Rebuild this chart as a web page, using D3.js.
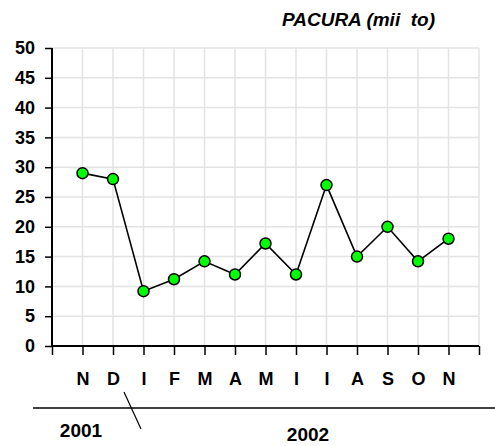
<!DOCTYPE html>
<html>
<head>
<meta charset="utf-8">
<script src="https://cdn.jsdelivr.net/npm/d3@7"></script>
<style>
  body { margin: 0; background: #fff; }
  svg { font-family: "Liberation Sans", Arial, sans-serif; }
</style>
</head>
<body>
<svg id="chart" width="495" height="446"></svg>
<script>
// monthly values, Nov 2001 .. Nov 2002
var months = ['N', 'D', 'I', 'F', 'M', 'A', 'M', 'I', 'I', 'A', 'S', 'O', 'N'];
var values = [29, 28, 9.2, 11.2, 14.2, 12, 17.2, 12, 27, 15, 20, 14.2, 18];
var yTicks = [0, 5, 10, 15, 20, 25, 30, 35, 40, 45, 50];
var years = ['2001', '2002'];
var title = 'PACURA (mii  to)';

var svg = d3.select('#chart');

var plotL = 52, plotR = 479, plotT = 48, plotB = 346; // plot box

// slot 0 is the empty first tick, months sit on slots 1..13, slot 14 closes the axis
var x = d3.scaleLinear().domain([0, months.length + 1]).range([plotL, plotR]);
var y = d3.scaleLinear().domain([0, 50]).range([plotB, plotT]);

var grid = svg.append('g');
grid.selectAll('line.h').data(yTicks.slice(1)).enter().append('line')
	.attr('x1', plotL).attr('x2', plotR)
	.attr('y1', function(d) { return y(d); })
	.attr('y2', function(d) { return y(d); })
	.attr('stroke', '#e3e3e3').attr('stroke-width', 1.5);
grid.selectAll('line.v').data(d3.range(1, months.length + 2)).enter().append('line')
	.attr('x1', function(d) { return x(d); })
	.attr('x2', function(d) { return x(d); })
	.attr('y1', plotT).attr('y2', plotB)
	.attr('stroke', '#e3e3e3').attr('stroke-width', 1.5);

// y axis
var yAxis = svg.append('g')
	.attr('transform', 'translate(' + plotL + ',0)')
	.call(d3.axisLeft(y).tickValues(yTicks).tickSize(7).tickPadding(10));
yAxis.select('.domain').attr('stroke-width', 2).attr('d', 'M0,' + plotT + 'V' + plotB);
yAxis.selectAll('.tick line').attr('stroke-width', 1.5);
yAxis.selectAll('text')
	.attr('font-size', 18).attr('font-weight', 'bold')
	.attr('font-family', '"Liberation Sans", Arial, sans-serif').attr('fill', '#000');

// x axis
var xAxis = svg.append('g')
	.attr('transform', 'translate(0,' + plotB + ')')
	.call(d3.axisBottom(x).tickValues(d3.range(0, months.length + 2)).tickSize(9)
		.tickFormat(function(d) { return months[d - 1] || ''; }).tickPadding(17));
xAxis.select('.domain').attr('stroke-width', 2).attr('d', 'M' + plotL + ',0H' + plotR);
xAxis.selectAll('.tick line').attr('stroke-width', 1.5);
xAxis.selectAll('text')
	.attr('font-size', 18).attr('font-weight', 'bold')
	.attr('font-family', '"Liberation Sans", Arial, sans-serif').attr('fill', '#000');

// series
var line = d3.line()
	.x(function(d, i) { return x(i + 1); })
	.y(function(d) { return y(d); });
svg.append('path').datum(values)
	.attr('d', line)
	.attr('fill', 'none').attr('stroke', '#000').attr('stroke-width', 1.6);
svg.selectAll('circle.pt').data(values).enter().append('circle')
	.attr('cx', function(d, i) { return x(i + 1); })
	.attr('cy', function(d) { return y(d); })
	.attr('r', 5.5)
	.attr('fill', '#00ff00').attr('stroke', '#000').attr('stroke-width', 1.5);

// year separator
svg.append('line').attr('x1', 33).attr('x2', 495).attr('y1', 408).attr('y2', 408)
	.attr('stroke', '#000').attr('stroke-width', 1.5);
svg.append('line').attr('x1', 124).attr('y1', 392).attr('x2', 141).attr('y2', 429)
	.attr('stroke', '#000').attr('stroke-width', 1.2);
svg.selectAll('text.year').data(years).enter().append('text')
	.attr('x', function(d, i) { return i === 0 ? 81 : 308; })
	.attr('y', function(d, i) { return i === 0 ? 437 : 441; })
	.attr('text-anchor', 'middle')
	.attr('font-size', 19).attr('font-weight', 'bold')
	.text(function(d) { return d; });

// title
svg.append('text')
	.attr('x', 435).attr('y', 26)
	.attr('text-anchor', 'end')
	.attr('font-size', 19).attr('font-weight', 'bold').attr('font-style', 'italic')
	.style('white-space', 'pre')
	.text(title);
</script>
</body>
</html>
